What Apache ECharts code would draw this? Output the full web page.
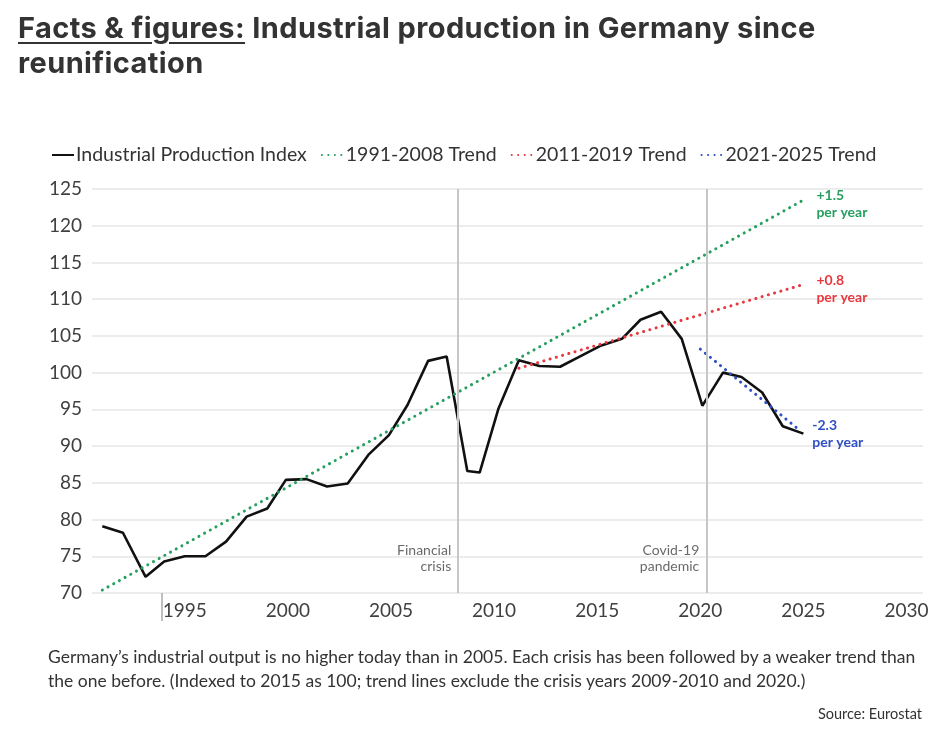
<!DOCTYPE html>
<html>
<head>
<meta charset="utf-8">
<script src="https://cdn.jsdelivr.net/npm/echarts@6/dist/echarts.min.js"></script>
<style>
    html, body { margin: 0; padding: 0; background: #fff; }
    #wrap { position: relative; width: 943px; height: 729px; overflow: hidden; }
    #chart { position: absolute; left: 0; top: 0; width: 943px; height: 729px; }
    .title {
        position: absolute; left: 18px; top: 10px;
        font-family: Inter, "Open Sans", sans-serif; font-weight: 700;
        font-size: 29px; line-height: 35px; color: #333; letter-spacing: 0.4px;
    }
    .title u { text-decoration-thickness: 2px; text-underline-offset: 4px; }
    .caption {
        position: absolute; left: 48px; top: 645px; white-space: nowrap;
        font-family: Lato, "Open Sans", sans-serif; font-size: 17.5px; line-height: 24px; color: #333;
    }
    .source {
        position: absolute; right: 21px; top: 705px;
        font-family: Lato, "Open Sans", sans-serif; font-size: 14.5px; color: #333;
    }
</style>
</head>
<body>
<div id="wrap">
    <div id="chart"></div>
    <div class="title"><u>Facts &amp; figures:</u> Industrial production in Germany since<br>reunification</div>
    <div class="caption">Germany’s industrial output is no higher today than in 2005. Each crisis has been followed by a weaker trend than<br>the one before. (Indexed to 2015 as 100; trend lines exclude the crisis years 2009-2010 and 2020.)</div>
    <div class="source">Source: Eurostat</div>
</div>
<script>
// 数据
const ipYears = [1991, 1992, 1993.1, 1994, 1995, 1996, 1997, 1998, 1999, 1999.9,
    2000.9, 2001.9, 2002.9, 2003.9, 2004.9, 2005.8, 2006.8, 2007.7, 2008.7, 2009.3,
    2010.2, 2011.2, 2012.2, 2013.2, 2014.1, 2015.2, 2016.2, 2017.1, 2018.1, 2019.1,
    2020.1, 2021.1, 2022, 2023, 2024, 2025];
const ipValues = [79.1, 78.2, 72.2, 74.3, 75.0, 75.0, 77.0, 80.4, 81.5, 85.4,
    85.5, 84.5, 84.9, 88.8, 91.5, 95.6, 101.6, 102.2, 86.6, 86.4,
    95.0, 101.7, 100.9, 100.8, 102.1, 103.7, 104.6, 107.2, 108.3, 104.6,
    95.5, 100.0, 99.4, 97.3, 92.7, 91.7];

const trendNames = ['1991-2008 Trend', '2011-2019 Trend', '2021-2025 Trend'];
const trendYears = [[1991, 2025], [2011.2, 2025], [2020, 2024.8]];
const trendValues = [[70.4, 123.5], [100.6, 112.0], [103.2, 92.2]];
const trendLabels = ['+1.5\nper year', '+0.8\nper year', '-2.3\nper year'];
const trendColors = ['#26a060', '#e8383d', '#2f4fc4'];

const crisisYears = [2008.26, 2020.29];
const crisisLabels = ['Financial\ncrisis', 'Covid-19\npandemic'];
const crisisLabelY = 74.7;

const xTickLabels = [1995, 2000, 2005, 2010, 2015, 2020, 2025, 2030];

const FONT = 'Lato, "Open Sans", sans-serif';

const chart = echarts.init(document.getElementById('chart'), null, { renderer: 'canvas' });

const zip = (xs, ys) => xs.map((x, i) => [x, ys[i]]);

const series = [
    {
        name: 'Industrial Production Index',
        type: 'line',
        data: zip(ipYears, ipValues),
        symbol: 'none',
        lineStyle: { color: '#111', width: 2.6 },
        itemStyle: { color: '#111' },
        z: 3,
        markLine: {
            silent: true,
            symbol: 'none',
            label: { show: false },
            lineStyle: { color: '#c6c6c6', width: 2, type: 'solid' },
            data: crisisYears.map(y => ({ xAxis: y }))
        }
    },
    // crisis annotations
    {
        name: 'crisis',
        type: 'scatter',
        symbolSize: 0,
        silent: true,
        data: crisisYears.map((y, i) => ({ value: [y, crisisLabelY], label: { formatter: crisisLabels[i] } })),
        label: {
            show: true, position: 'left', distance: 7, align: 'right',
            fontFamily: FONT, fontSize: 14, lineHeight: 16, color: '#444'
        }
    }
];

trendNames.forEach((name, i) => {
    series.push({
        name: name,
        type: 'line',
        data: zip(trendYears[i], trendValues[i]),
        symbol: 'none',
        z: 4,
        lineStyle: { color: trendColors[i], width: 3, type: [0.1, 6.4], cap: 'round' },
        itemStyle: { color: trendColors[i] },
        endLabel: {
            show: true,
            formatter: trendLabels[i],
            distance: 13,
            offset: [0, 4],
            fontFamily: FONT, fontSize: 14, lineHeight: 17, fontWeight: 'bold',
            color: trendColors[i], align: 'left'
        }
    });
});

const option = {
    animation: false,
    backgroundColor: 'transparent',
    textStyle: { fontFamily: FONT },
    legend: {
        data: ['Industrial Production Index'].concat(trendNames),
        left: 46,
        top: 140,
        itemWidth: 22,
        itemHeight: 14,
        itemGap: 14,
        itemStyle: { opacity: 0 },
        textStyle: { fontFamily: FONT, fontSize: 19.5, color: '#333', padding: [0, 0, 0, -3] }
    },
    grid: { left: 92, right: 20, top: 189, bottom: 136, containLabel: false },
    xAxis: {
        type: 'value',
        min: 1990.5,
        max: 2030.8,
        axisLine: { show: false },
        splitLine: { show: false },
        axisTick: {
            show: true, customValues: [1993.9], length: 28,
            lineStyle: { color: '#aaa', width: 1.5 }
        },
        axisLabel: {
            customValues: xTickLabels,
            formatter: v => String(v),
            fontFamily: FONT, fontSize: 19, color: '#404040', margin: 8
        }
    },
    yAxis: {
        type: 'value',
        min: 70,
        max: 125,
        interval: 5,
        axisLine: { show: false },
        axisTick: { show: false },
        splitLine: { lineStyle: { color: '#e6e6e6', width: 1.5 } },
        axisLabel: { fontFamily: FONT, fontSize: 19, color: '#404040', margin: 10 }
    },
    series: series
};

chart.setOption(option);
</script>
</body>
</html>
